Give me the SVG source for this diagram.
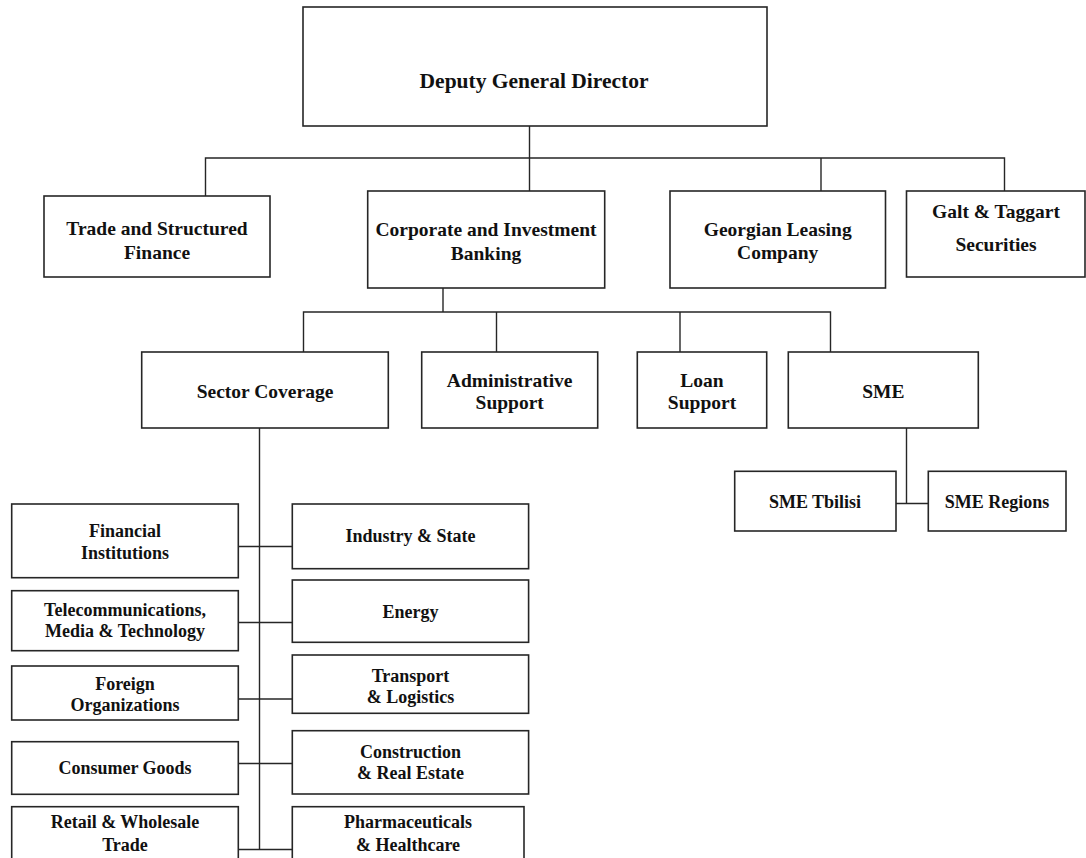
<svg xmlns="http://www.w3.org/2000/svg" width="1086" height="858" viewBox="0 0 1086 858">
  <style>
    .box { fill: #ffffff; stroke: #262626; stroke-width: 1.6; }
    .wire { fill: none; stroke: #262626; stroke-width: 1.4; }
    text { font-family: "Liberation Serif", "Times New Roman", serif; font-weight: bold; fill: #111111; text-anchor: middle; }
    .t1 { font-size: 21.5px; }
    .t2 { font-size: 19.5px; }
    .t3 { font-size: 18px; }
  </style>
  <rect x="0" y="0" width="1086" height="858" fill="#ffffff"/>

  <!-- connectors -->
  <g id="connectors" class="wire">
    <path d="M529.5 126 V191"/>
    <path d="M205.5 196 V158 H1004.5 V191"/>
    <path d="M821 158 V191"/>
    <path d="M443 288 V312"/>
    <path d="M303.5 352 V312 H830.5 V352"/>
    <path d="M496.5 312 V352"/>
    <path d="M680 312 V352"/>
    <path d="M906.5 428 V503.5"/>
    <path d="M896 503.5 H928.5"/>
    <path d="M259.5 428 V849.5"/>
    <path d="M238.5 546.5 H292.5"/>
    <path d="M238.5 622.5 H292.5"/>
    <path d="M238.5 699 H292.5"/>
    <path d="M238.5 763.5 H292.5"/>
    <path d="M238.5 849.5 H292.5"/>
  </g>

  <!-- top level -->
  <g id="deputy-general-director">
    <rect class="box" x="303" y="7" width="464" height="119"/>
    <text class="t1" x="534" y="87.5">Deputy General Director</text>
  </g>

  <!-- direct reports -->
  <g id="trade-structured-finance">
    <rect class="box" x="44" y="196" width="226" height="81"/>
    <text class="t2" x="157" y="235">Trade and Structured</text>
    <text class="t2" x="157" y="259">Finance</text>
  </g>
  <g id="corporate-investment-banking">
    <rect class="box" x="367.7" y="191" width="237" height="97"/>
    <text class="t2" x="486" y="236">Corporate and Investment</text>
    <text class="t2" x="486" y="260">Banking</text>
  </g>
  <g id="georgian-leasing">
    <rect class="box" x="670" y="191" width="215.5" height="97"/>
    <text class="t2" x="777.7" y="235.5">Georgian Leasing</text>
    <text class="t2" x="777.7" y="258.5">Company</text>
  </g>
  <g id="galt-taggart">
    <rect class="box" x="906.5" y="191" width="178.5" height="86"/>
    <text class="t2" x="996" y="217.5">Galt &amp; Taggart</text>
    <text class="t2" x="996" y="250.5">Securities</text>
  </g>

  <!-- corporate and investment banking units -->
  <g id="sector-coverage">
    <rect class="box" x="141.7" y="352" width="246.6" height="76"/>
    <text class="t2" x="265" y="398">Sector Coverage</text>
  </g>
  <g id="administrative-support">
    <rect class="box" x="421.7" y="352" width="176" height="76"/>
    <text class="t2" x="509.7" y="387">Administrative</text>
    <text class="t2" x="509.7" y="409">Support</text>
  </g>
  <g id="loan-support">
    <rect class="box" x="637.3" y="352" width="129.4" height="76"/>
    <text class="t2" x="702" y="387">Loan</text>
    <text class="t2" x="702" y="409">Support</text>
  </g>
  <g id="sme">
    <rect class="box" x="788.3" y="352" width="190" height="76"/>
    <text class="t2" x="883.3" y="398">SME</text>
  </g>

  <!-- SME branches -->
  <g id="sme-tbilisi">
    <rect class="box" x="734.7" y="471.3" width="161.3" height="59.7"/>
    <text class="t3" x="815" y="508">SME Tbilisi</text>
  </g>
  <g id="sme-regions">
    <rect class="box" x="928.3" y="471.3" width="137.7" height="59.7"/>
    <text class="t3" x="997" y="508">SME Regions</text>
  </g>

  <!-- sectors, left column -->
  <g id="financial-institutions">
    <rect class="box" x="11.7" y="504" width="226.6" height="73.7"/>
    <text class="t3" x="125" y="537">Financial</text>
    <text class="t3" x="125" y="558.5">Institutions</text>
  </g>
  <g id="telecom-media-technology">
    <rect class="box" x="11.7" y="590.7" width="226.6" height="60"/>
    <text class="t3" x="125" y="616">Telecommunications,</text>
    <text class="t3" x="125" y="637">Media &amp; Technology</text>
  </g>
  <g id="foreign-organizations">
    <rect class="box" x="11.7" y="666" width="226.6" height="54"/>
    <text class="t3" x="125" y="689.5">Foreign</text>
    <text class="t3" x="125" y="711">Organizations</text>
  </g>
  <g id="consumer-goods">
    <rect class="box" x="11.7" y="741.7" width="226.6" height="52.6"/>
    <text class="t3" x="125" y="774">Consumer Goods</text>
  </g>
  <g id="retail-wholesale-trade">
    <rect class="box" x="11.7" y="806.7" width="226.6" height="70"/>
    <text class="t3" x="125" y="828.3">Retail &amp; Wholesale</text>
    <text class="t3" x="125" y="850.7">Trade</text>
  </g>

  <!-- sectors, right column -->
  <g id="industry-state">
    <rect class="box" x="292.3" y="504" width="236.3" height="64.7"/>
    <text class="t3" x="410.5" y="542">Industry &amp; State</text>
  </g>
  <g id="energy">
    <rect class="box" x="292.3" y="580" width="236.3" height="62.3"/>
    <text class="t3" x="410.5" y="617.5">Energy</text>
  </g>
  <g id="transport-logistics">
    <rect class="box" x="292.3" y="655" width="236.3" height="58.3"/>
    <text class="t3" x="410.5" y="681.7">Transport</text>
    <text class="t3" x="410.5" y="702.7">&amp; Logistics</text>
  </g>
  <g id="construction-real-estate">
    <rect class="box" x="292.3" y="730.7" width="236.3" height="63.3"/>
    <text class="t3" x="410.5" y="758.3">Construction</text>
    <text class="t3" x="410.5" y="779.3">&amp; Real Estate</text>
  </g>
  <g id="pharmaceuticals-healthcare">
    <rect class="box" x="292.3" y="806.7" width="231.7" height="70"/>
    <text class="t3" x="408" y="828.3">Pharmaceuticals</text>
    <text class="t3" x="408" y="850.7">&amp; Healthcare</text>
  </g>
</svg>
